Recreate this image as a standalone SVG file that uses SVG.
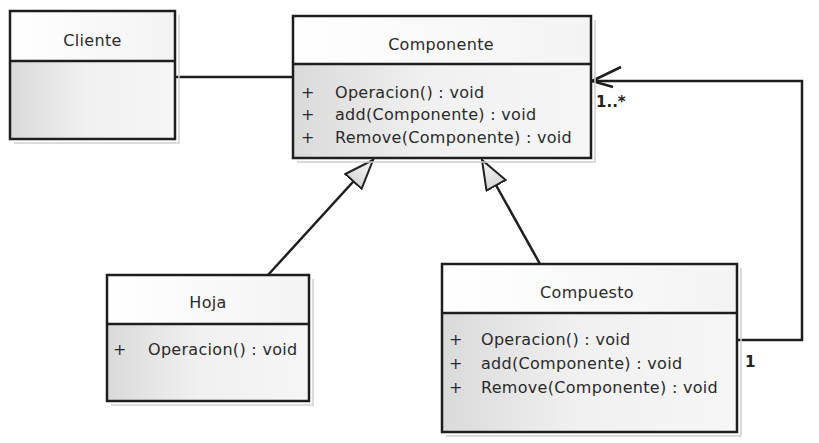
<svg xmlns="http://www.w3.org/2000/svg" width="819" height="443" viewBox="0 0 819 443">
<defs>
<linearGradient id="gBody" x1="0" y1="0" x2="1" y2="0">
<stop offset="0" stop-color="#dadada"/>
<stop offset="0.45" stop-color="#f0f0f0"/>
<stop offset="1" stop-color="#f6f6f6"/>
</linearGradient>
<linearGradient id="gHead" x1="0" y1="0" x2="1" y2="0">
<stop offset="0" stop-color="#ffffff"/>
<stop offset="1" stop-color="#f3f3f3"/>
</linearGradient>
<linearGradient id="gTri" x1="0" y1="0" x2="1" y2="0">
<stop offset="0" stop-color="#d8d8d8"/>
<stop offset="1" stop-color="#fafafa"/>
</linearGradient>
<marker id="gen" markerUnits="userSpaceOnUse" markerWidth="40" markerHeight="30" refX="30" refY="12" orient="auto" viewBox="0 0 40 30">
<path d="M30,12 L1,1 L1,23 Z" fill="url(#gTri)" stroke="#222" stroke-width="2" stroke-linejoin="miter"/>
</marker>
</defs>
<style>
.box{stroke:#1e1e1e;stroke-width:2.5}
.head{fill:url(#gHead)}
.body{fill:url(#gBody)}
.shadow{fill:none;stroke:#d0d0d0;stroke-width:1.5}
.div{stroke:#1e1e1e;stroke-width:2.5}
.t{font-family:"DejaVu Sans",Verdana,sans-serif;font-size:16px;fill:#2a2a2a;letter-spacing:0.3px}
.c{text-anchor:middle}
.line{fill:none;stroke:#1e1e1e;stroke-width:2.5}
.m{font-family:"DejaVu Sans",Verdana,sans-serif;font-size:15px;font-weight:bold;fill:#222}
</style>

<g id="connectors">
<line class="line" x1="175" y1="77" x2="293" y2="77"/>
<line class="line" x1="268" y1="275" x2="373" y2="160" marker-end="url(#gen)"/>
<line class="line" x1="540" y1="264" x2="482" y2="160" marker-end="url(#gen)"/>
<polyline class="line" points="737,340 802,340 802,81 592,81"/>
<polyline class="line" points="621,67 592,81 613,87" stroke-linejoin="miter"/>
<text class="m" x="596" y="107">1..*</text>
<text class="m" x="745" y="367">1</text>
</g>

<g id="cliente">
<polyline class="shadow" points="179,15 179,143 14,143"/>
<rect class="head" x="10" y="11" width="165" height="50"/>
<rect class="body" x="10" y="61" width="165" height="78"/>
<rect class="box" x="10" y="11" width="165" height="128" fill="none"/>
<line class="div" x1="10" y1="61" x2="175" y2="61"/>
<text class="t c" x="92.5" y="46">Cliente</text>
</g>

<g id="componente">
<polyline class="shadow" points="595,20 595,162 297,162"/>
<rect class="head" x="293" y="16" width="298" height="48"/>
<rect class="body" x="293" y="64" width="298" height="94"/>
<rect class="box" x="293" y="16" width="298" height="142" fill="none"/>
<line class="div" x1="293" y1="64" x2="591" y2="64"/>
<text class="t c" x="441" y="50">Componente</text>
<text class="t" x="301" y="98">+</text>
<text class="t" x="335" y="98">Operacion() : void</text>
<text class="t" x="301" y="120">+</text>
<text class="t" x="335" y="120">add(Componente) : void</text>
<text class="t" x="301" y="143">+</text>
<text class="t" x="335" y="143">Remove(Componente) : void</text>
</g>

<g id="hoja">
<polyline class="shadow" points="313,279 313,405 111,405"/>
<rect class="head" x="107" y="275" width="202" height="49"/>
<rect class="body" x="107" y="324" width="202" height="77"/>
<rect class="box" x="107" y="275" width="202" height="126" fill="none"/>
<line class="div" x1="107" y1="324" x2="309" y2="324"/>
<text class="t c" x="208" y="308">Hoja</text>
<text class="t" x="113" y="355">+</text>
<text class="t" x="148" y="355">Operacion() : void</text>
</g>

<g id="compuesto">
<polyline class="shadow" points="741,268 741,436 446,436"/>
<rect class="head" x="442" y="264" width="295" height="49"/>
<rect class="body" x="442" y="313" width="295" height="119"/>
<rect class="box" x="442" y="264" width="295" height="168" fill="none"/>
<line class="div" x1="442" y1="313" x2="737" y2="313"/>
<text class="t c" x="587" y="298">Compuesto</text>
<text class="t" x="449" y="345">+</text>
<text class="t" x="481" y="345">Operacion() : void</text>
<text class="t" x="449" y="369">+</text>
<text class="t" x="481" y="369">add(Componente) : void</text>
<text class="t" x="449" y="393">+</text>
<text class="t" x="481" y="393">Remove(Componente) : void</text>
</g>
</svg>
